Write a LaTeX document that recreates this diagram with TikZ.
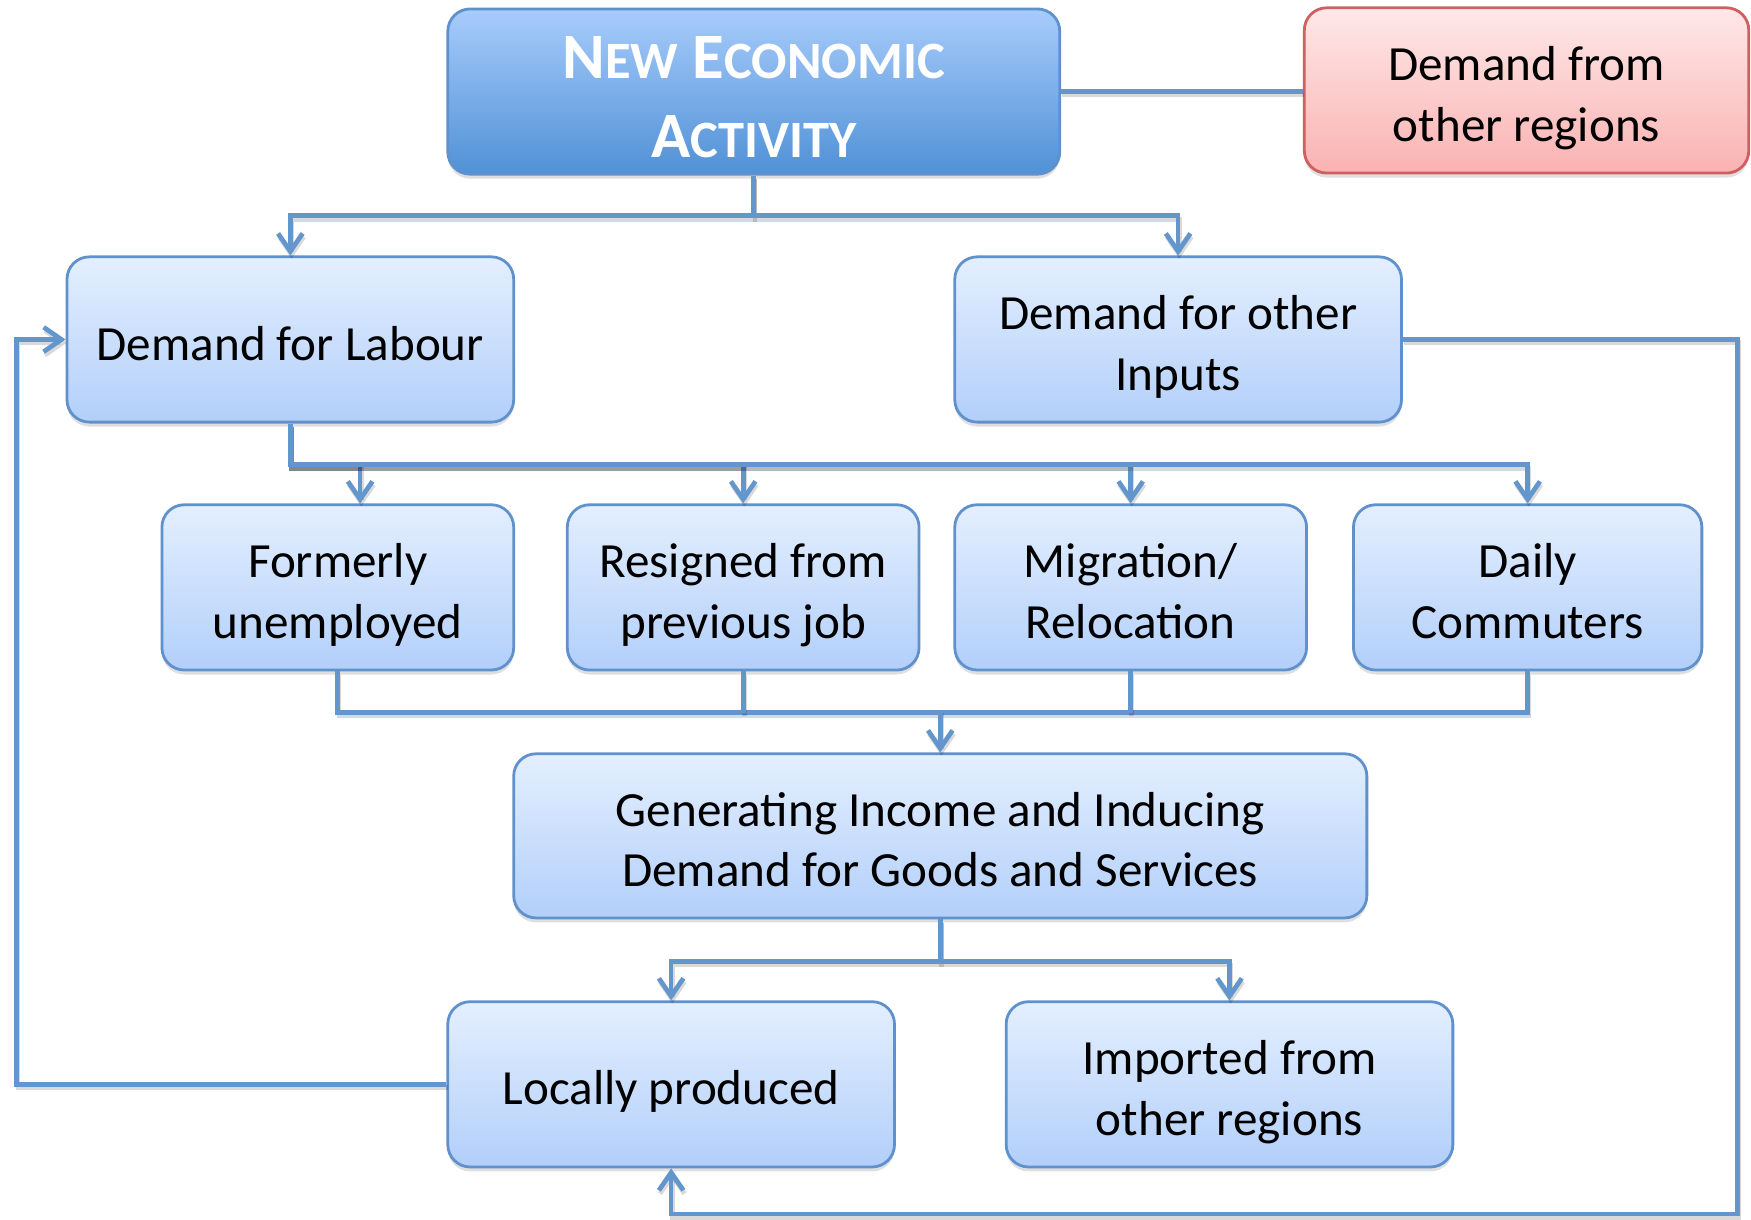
\documentclass[tikz,border=0pt]{standalone}
\usepackage{fontspec}
\setmainfont{Carlito}
\usetikzlibrary{arrows.meta,shadows,calc}
\definecolor{linecol}{RGB}{98,150,204}
\definecolor{boxborder}{RGB}{95,145,205}
\definecolor{boxtop}{RGB}{228,239,254}
\definecolor{boxbot}{RGB}{178,207,250}
\definecolor{titletop}{RGB}{168,204,251}
\definecolor{titlebot}{RGB}{80,145,214}
\definecolor{redtop}{RGB}{254,232,232}
\definecolor{redbot}{RGB}{250,178,178}
\definecolor{redborder}{RGB}{208,96,96}
\newcommand{\fsc}[1]{{\fontsize{47}{71}\selectfont #1}}
\newcommand{\tstr}{\rule{0pt}{49pt}}
\newcommand{\ttstr}{\rule{0pt}{59pt}}
\begin{document}
\begin{tikzpicture}[x=1pt,y=-1pt,
  box/.style={rectangle, rounded corners=20pt, draw=boxborder, line width=2.5pt,
    top color=boxtop, bottom color=boxbot, align=center, inner sep=0pt,
    font=\fontsize{44}{54.5}\selectfont,
    execute at end node={\rule[-12pt]{0pt}{12pt}},
    drop shadow={shadow xshift=0pt, shadow yshift=-4pt, opacity=0.25}},
  titlebox/.style={box, top color=titletop, bottom color=titlebot,
    text=white, font=\fontsize{58}{71}\selectfont\bfseries},
  redbox/.style={box, draw=redborder, top color=redtop, bottom color=redbot},
  conn/.style={draw=linecol, line width=4.2pt,
    preaction={draw=black, draw opacity=0.15, line width=4.2pt,
      transform canvas={shift={(1pt,-3pt)}}}},
  arr/.style={conn, -{Straight Barb[length=16pt,width=22pt]}}
]
\useasboundingbox (0,0) rectangle (1568,1092);

\node[titlebox, minimum width=548pt, minimum height=148pt] (title) at (675,82)
  {\ttstr N\fsc{EW} E\fsc{CONOMIC}\\A\fsc{CTIVITY}};
\node[redbox, minimum width=398pt, minimum height=148pt] (red) at (1367,81)
  {\tstr Demand from\\other regions};
\node[box, minimum width=400pt, minimum height=148pt] (labour) at (260,304)
  {\tstr Demand for Labour};
\node[box, minimum width=400pt, minimum height=148pt] (inputs) at (1055,304)
  {\tstr Demand for other\\Inputs};
\node[box, minimum width=315pt, minimum height=148pt] (formerly) at (302.5,526)
  {\tstr Formerly\\unemployed};
\node[box, minimum width=315pt, minimum height=148pt] (resigned) at (665.5,526)
  {\tstr Resigned from\\previous job};
\node[box, minimum width=315pt, minimum height=148pt] (migration) at (1012.5,526)
  {\tstr Migration/\\Relocation};
\node[box, minimum width=312pt, minimum height=148pt] (daily) at (1368,526)
  {\tstr Daily\\Commuters};
\node[box, minimum width=764pt, minimum height=147pt] (gen) at (842,748.5)
  {\tstr Generating Income and Inducing\\Demand for Goods and Services};
\node[box, minimum width=400pt, minimum height=148pt] (local) at (601,971)
  {\tstr Locally produced};
\node[box, minimum width=400pt, minimum height=148pt] (imported) at (1101,971)
  {\tstr Imported from\\other regions};

% title connections
\draw[conn] (title.east) -- (red.west |- title.east);
\draw[arr] (title.south) -- ++(0,36) -| (labour.north);
\draw[arr] (title.south) -- ++(0,36) -| (inputs.north);

% labour to four sources
\coordinate (fa) at ($(formerly.north)+(20,0)$);
\draw[arr] (labour.south) -- ++(0,37) -| (fa);
\draw[arr] (labour.south) -- ++(0,37) -| (resigned.north);
\draw[arr] (labour.south) -- ++(0,37) -| (migration.north);
\draw[arr] (labour.south) -- ++(0,37) -| (daily.north);

% four sources to generating
\draw[conn] (formerly.south) -- ++(0,37) -| (daily.south);
\draw[conn] (resigned.south) -- ++(0,37);
\draw[conn] (migration.south) -- ++(0,37);
\coordinate (gb) at ($(gen.north)+(0,-38)$);
\draw[arr] (gb) -- (gen.north);

% generating to local/imported
\draw[arr] (gen.south) -- ++(0,38) -| (local.north);
\draw[arr] (gen.south) -- ++(0,38) -| (imported.north);

% feedback loops
\coordinate (c1) at (1556,1087);
\draw[arr] (inputs.east) -| (c1) -| (local.south);
\coordinate (c2) at (15,971);
\draw[arr] (local.west) -- (c2) |- (labour.west);
\end{tikzpicture}
\end{document}
